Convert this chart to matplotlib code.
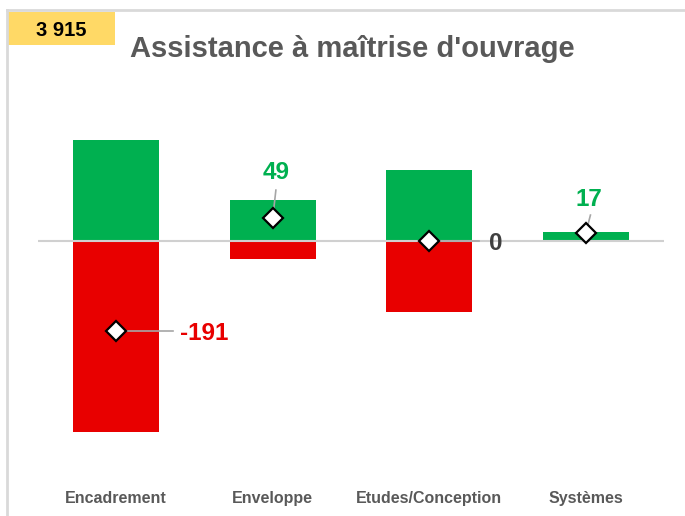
import matplotlib.pyplot as plt
from matplotlib.patches import Rectangle
from matplotlib.lines import Line2D

# Chart data
categories = ["Encadrement", "Enveloppe", "Etudes/Conception", "Systèmes"]
gains = [214, 87, 150, 20]
losses = [-405, -38, -150, -3]
net = [-191, 49, 0, 17]
net_labels = ["-191", "49", "0", "17"]
total_label = "3 915"
title = "Assistance à maîtrise d'ouvrage"

GREEN = "#00B050"
RED = "#E80000"
GRAY_TXT = "#595959"

plt.rcParams["font.family"] = ["Liberation Sans", "DejaVu Sans"]

W, H = 685, 516
fig = plt.figure(figsize=(W / 100, H / 100), dpi=100)

# axes placed in pixel terms: left 38, right 664, top 110, bottom 470
ax = fig.add_axes([38 / W, 1 - 470 / H, (664 - 38) / W, (470 - 110) / H])
x = list(range(len(categories)))
ax.bar(x, gains, width=0.55, color=GREEN, zorder=2)
ax.bar(x, losses, width=0.55, color=RED, zorder=2)
ax.axhline(0, color="#D0D0D0", lw=1.5, zorder=3)
ax.set_xlim(-0.5, 3.5)
ax.set_ylim(-486, 278)

# leader line end (dx, dy) and label offset (lx, ly) per category, data units
leaders = [(0.36, 0, 0.41, -6), (0.02, 59, 0.02, 96), (0.32, 0, 0.38, -6), (0.03, 38, 0.02, 70)]
for i, (v, lab) in enumerate(zip(net, net_labels)):
    dx, dy, lx, ly = leaders[i]
    if v < 0:
        col = RED
    elif v > 0:
        col = GREEN
    else:
        col = "#404040"
    ax.plot([i, i + dx], [v, v + dy], color="#A6A6A6", lw=1.2, zorder=4)
    ha = "left" if dy == 0 else "center"
    ax.text(i + lx, v + ly, lab, color=col, fontsize=17.5, fontweight="bold",
            ha=ha, va="center", zorder=6)
ax.plot(x, net, linestyle="none", marker="D", ms=10.5, mfc="white", mec="black",
        mew=1.6, zorder=5)

ax.set_xticks(x)
ax.set_xticklabels(categories, fontsize=11.5, fontweight="bold", color=GRAY_TXT)
ax.tick_params(axis="x", length=0, pad=15)
ax.set_yticks([])
for s in ax.spines.values():
    s.set_visible(False)

# outer frame lines (top and left)
fig.add_artist(Line2D([7 / W, 1], [1 - 10 / H, 1 - 10 / H], color="#D9D9D9", lw=2))
fig.add_artist(Line2D([7 / W, 7 / W], [0, 1 - 10 / H], color="#D9D9D9", lw=2))

# yellow total box
fig.add_artist(Rectangle((8 / W, 1 - 45 / H), 107 / W, 33 / H,
                         transform=fig.transFigure, color="#FFD966", lw=0))
fig.text(61 / W, 1 - 30 / H, total_label, fontsize=14.5, fontweight="bold",
         color="black", ha="center", va="center")

fig.text(352 / W, 1 - 49 / H, title, fontsize=21, fontweight="bold",
         color=GRAY_TXT, ha="center", va="center")

fig.savefig("out.png", dpi=100)
